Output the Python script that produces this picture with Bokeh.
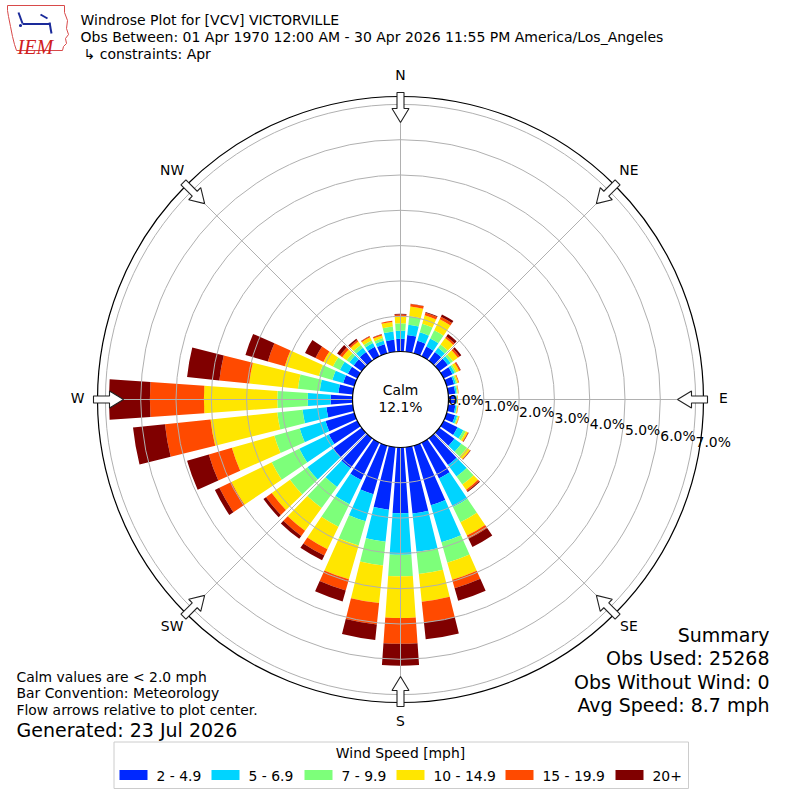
import math
from bokeh.plotting import figure
from bokeh.models import Range1d, ColumnDataSource
from bokeh.embed import file_html
from bokeh.resources import INLINE
from bokeh.core.properties import value

# ---------------- data ----------------
directions = list(range(0, 360, 10))
speed_labels = ["2 - 4.9", "5 - 6.9", "7 - 9.9", "10 - 14.9", "15 - 19.9", "20+"]
speed_colors = ["#0028ff", "#00d4ff", "#7dff7a", "#ffe600", "#ff4a00", "#800000"]

pct_2_5 = [0.36, 0.48, 0.37, 0.31, 0.30, 0.30, 0.28, 0.22, 0.20, 0.19, 0.20, 0.25,
           0.44, 0.53, 0.93, 1.13, 1.76, 1.89, 1.86, 1.78, 1.43, 1.18, 1.05, 1.00,
           0.90, 0.85, 0.75, 0.62, 0.41, 0.33, 0.30, 0.28, 0.30, 0.30, 0.27, 0.34]
pct_5_7 = [0.23, 0.29, 0.25, 0.25, 0.15, 0.10, 0.07, 0.05, 0.04, 0.03, 0.04, 0.06,
           0.18, 0.24, 0.41, 0.90, 1.09, 1.09, 1.18, 0.91, 0.80, 0.76, 0.65, 0.90,
           0.93, 0.76, 0.68, 0.65, 0.53, 0.32, 0.25, 0.15, 0.15, 0.12, 0.10, 0.24]
pct_7_10 = [0.21, 0.24, 0.25, 0.26, 0.12, 0.08, 0.05, 0.04, 0.03, 0.02, 0.02, 0.03,
            0.08, 0.20, 0.28, 0.48, 0.60, 0.63, 0.61, 0.68, 0.71, 0.71, 0.74, 0.61,
            0.87, 0.75, 0.72, 0.86, 0.62, 0.40, 0.22, 0.10, 0.10, 0.08, 0.08, 0.14]
pct_10_15 = [0.20, 0.28, 0.25, 0.35, 0.22, 0.17, 0.09, 0.04, 0.02, 0.02, 0.02, 0.03,
             0.06, 0.10, 0.18, 0.42, 0.50, 0.79, 1.18, 1.07, 1.00, 0.71, 0.80, 0.64,
             1.27, 1.25, 1.90, 2.08, 1.39, 1.00, 0.30, 0.15, 0.12, 0.10, 0.08, 0.13]
pct_15_20 = [0.05, 0.07, 0.08, 0.08, 0.06, 0.06, 0.04, 0.02, 0.01, 0.01, 0.01, 0.01,
             0.02, 0.02, 0.05, 0.10, 0.25, 0.59, 0.73, 0.61, 0.33, 0.20, 0.18, 0.20,
             0.38, 0.68, 1.30, 1.53, 0.85, 0.50, 0.25, 0.08, 0.05, 0.03, 0.03, 0.03]
pct_20p = [0.02, 0.01, 0.02, 0.07, 0.08, 0.06, 0.01, 0.00, 0.00, 0.00, 0.00, 0.00,
           0.01, 0.01, 0.03, 0.26, 0.37, 0.48, 0.62, 0.44, 0.32, 0.15, 0.10, 0.09,
           0.14, 0.64, 0.91, 1.16, 0.92, 0.66, 0.33, 0.10, 0.05, 0.01, 0.01, 0.00]
speed_series = [pct_2_5, pct_5_7, pct_7_10, pct_10_15, pct_15_20, pct_20p]

ring_values = [0, 1, 2, 3, 4, 5, 6, 7]
ring_labels = ["0.0%", "1.0%", "2.0%", "3.0%", "4.0%", "5.0%", "6.0%", "7.0%"]
compass_names = ["N", "NE", "E", "SE", "S", "SW", "W", "NW"]
compass_angles = [0, 45, 90, 135, 180, 225, 270, 315]
calm_pct = 12.1

title_lines = ["Windrose Plot for [VCV] VICTORVILLE",
               "Obs Between: 01 Apr 1970 12:00 AM - 30 Apr 2026 11:55 PM America/Los_Angeles",
               "\u21b3 constraints: Apr"]
note_lines = ["Calm values are < 2.0 mph", "Bar Convention: Meteorology",
              "Flow arrows relative to plot center."]
generated_text = "Generated: 23 Jul 2026"
summary_lines = ["Summary", "Obs Used: 25268", "Obs Without Wind: 0", "Avg Speed: 8.7 mph"]
legend_title = "Wind Speed [mph]"

# ---------------- geometry ----------------
S = 35.3            # pixels per percent
FONT = value("DejaVu Sans")
FW = 796


def PX(x):
    return (x - 400.0) / S


def PY(y):
    return (399.0 - y) / S


hole = 48.0 / S
outer_r = 303.0 / S
mid_up = 1.5 / S

p = figure(width=FW, height=FW,
           x_range=Range1d(PX(0), PX(FW)), y_range=Range1d(PY(FW), PY(0)),
           output_backend="svg", toolbar_location=None,
           x_axis_location=None, y_axis_location=None, min_border=0)
p.grid.visible = False
p.outline_line_color = None
p.background_fill_color = "white"
p.border_fill_color = "white"

# ---------------- bars ----------------
inner, outer, start, end, cols = [], [], [], [], []
for i, d in enumerate(directions):
    cum = 0.0
    for j, series in enumerate(speed_series):
        v = series[i]
        if v <= 0:
            continue
        inner.append(hole + cum)
        cum += v
        outer.append(hole + cum)
        c = math.radians(90 - d)
        start.append(c - math.radians(4))
        end.append(c + math.radians(4))
        cols.append(speed_colors[j])
src = ColumnDataSource(dict(inner=inner, outer=outer, start=start, end=end, color=cols))
p.annular_wedge(x=0, y=0, inner_radius="inner", outer_radius="outer",
                start_angle="start", end_angle="end", fill_color="color",
                line_color=None, source=src)

# ---------------- grid ----------------
rings = [hole + v for v in ring_values[1:]]
p.circle(x=[0] * len(rings), y=[0] * len(rings), radius=rings,
         fill_color=None, line_color="#b0b0b0", line_width=1)
sx0, sy0, sx1, sy1 = [], [], [], []
for a in compass_angles:
    r = math.radians(a)
    sx0.append(hole * math.sin(r)); sy0.append(hole * math.cos(r))
    sx1.append(outer_r * math.sin(r)); sy1.append(outer_r * math.cos(r))
p.segment(x0=sx0, y0=sy0, x1=sx1, y1=sy1, line_color="#b0b0b0", line_width=1)
p.circle(x=[0], y=[0], radius=[outer_r], fill_color=None, line_color="black", line_width=1.2)
p.circle(x=[0], y=[0], radius=[hole], fill_color="white", line_color="black", line_width=1.2)

# ---------------- arrows ----------------
arrow_shape = [(277, 0), (291, 8.5), (291, 3.5), (307, 3.5), (307, -3.5), (291, -3.5), (291, -8.5)]
axs, ays = [], []
for a in compass_angles:
    r = math.radians(a)
    ux, uy = math.sin(r), math.cos(r)
    vx, vy = math.cos(r), -math.sin(r)
    axs.append([(rr * ux + t * vx) / S for rr, t in arrow_shape])
    ays.append([(rr * uy + t * vy) / S for rr, t in arrow_shape])
p.patches(xs=axs, ys=ays, fill_color="white", line_color="#222222", line_width=1.1)

# compass labels
lx = [323.0 / S * math.sin(math.radians(a)) for a in compass_angles]
ly = [323.0 / S * math.cos(math.radians(a)) + mid_up for a in compass_angles]
p.text(x=lx, y=ly, text=compass_names, text_font=FONT, text_font_size=value("13.9px"),
       text_align="center", text_baseline="middle", text_color="black")

# radial labels
rlx = [hole + v for v in ring_values]
rly = [PY(401 + 6 * v) + mid_up for v in ring_values]
p.text(x=rlx, y=rly, text=ring_labels, text_font=FONT, text_font_size=value("13.9px"),
       text_align="left", text_baseline="middle", text_color="black")

# calm
p.text(x=[0, 0], y=[PY(391) + mid_up, PY(408) + mid_up], text=["Calm", "%.1f%%" % calm_pct],
       text_font=FONT, text_font_size=value("13.9px"), text_align="center",
       text_baseline="middle", text_color="black")

# ---------------- titles ----------------
p.text(x=[PX(80), PX(80), PX(83)], y=[PY(19.5), PY(36.5), PY(53)], text=title_lines,
       text_font=FONT, text_font_size=value("14px"), text_align="left",
       text_baseline="alphabetic", text_color="black")

# logo (IEM)
logo_x = [7, 64, 64, 67, 66, 68, 65, 66, 63, 62, 16, 14, 12, 10, 8, 7]
logo_y = [5, 5, 12, 20, 28, 34, 38, 43, 46, 50, 50, 44, 36, 26, 16, 10]
p.patch(x=[PX(v) for v in logo_x], y=[PY(v) for v in logo_y], fill_color="white",
        line_color="#d84a4a", line_width=1)
p.segment(x0=[PX(22), PX(18), PX(40), PX(49)], y0=[PY(23.5), PY(12), PY(14), PY(22)],
          x1=[PX(50), PX(22), PX(47), PX(51)], y1=[PY(23.5), PY(23), PY(18), PY(33)],
          line_color="#1a2a9a", line_width=2)
p.circle(x=[PX(20)], y=[PY(25)], radius=[1.6 / S], fill_color="#1a2a9a", line_color=None)
p.text(x=[PX(17)], y=[PY(46)], text=["IEM"], text_font=value("Liberation Serif"),
       text_font_style="italic", text_font_size=value("20px"), text_color="#d02020",
       text_align="left", text_baseline="alphabetic")

# notes
p.text(x=[PX(16)] * 3, y=[PY(676.5), PY(692.5), PY(709)], text=note_lines, text_font=FONT,
       text_font_size=value("13.9px"), text_align="left", text_baseline="alphabetic",
       text_color="black")
p.text(x=[PX(16)], y=[PY(729)], text=[generated_text], text_font=FONT,
       text_font_size=value("19px"), text_align="left", text_baseline="alphabetic",
       text_color="black")

# summary
p.text(x=[PX(769)] * 4, y=[PY(634.5), PY(657.8), PY(681.2), PY(704.5)], text=summary_lines,
       text_font=FONT, text_font_size=value("19px"), text_align="right",
       text_baseline="alphabetic", text_color="black")

# ---------------- legend ----------------
p.quad(left=[PX(113.5)], right=[PX(688)], top=[PY(741.5)], bottom=[PY(788)],
       fill_color="white", line_color="#cccccc", line_width=1)
p.text(x=[PX(400)], y=[PY(752)], text=[legend_title], text_font=FONT,
       text_font_size=value("13.9px"), text_align="center", text_baseline="alphabetic",
       text_color="black")
legend_left = [119, 211, 304, 396, 505, 615]
p.quad(left=[PX(v) for v in legend_left], right=[PX(v + 28) for v in legend_left],
       top=[PY(769.5)] * 6, bottom=[PY(779.5)] * 6, fill_color=speed_colors, line_color=None)
p.text(x=[PX(v + 37) for v in legend_left], y=[PY(775)] * 6, text=speed_labels,
       text_font=FONT, text_font_size=value("13.9px"), text_align="left",
       text_baseline="alphabetic", text_color="black")

open("out.html", "w").write(file_html(p, INLINE))
